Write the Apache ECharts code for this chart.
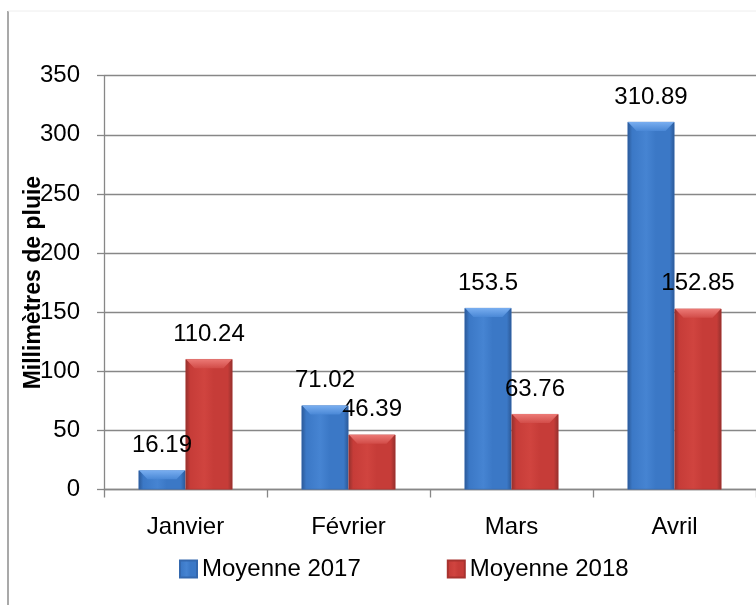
<!DOCTYPE html>
<html>
<head>
<meta charset="utf-8">
<script src="https://cdn.jsdelivr.net/npm/echarts@6/dist/echarts.min.js"></script>
<style>
html,body{margin:0;padding:0;background:#fff;}
#c{width:756px;height:605px;}
</style>
</head>
<body>
<div id="c"></div>
<script>
const categories = ['Janvier', 'Février', 'Mars', 'Avril'];
const series2017 = [16.19, 71.02, 153.5, 310.89];
const series2018 = [110.24, 46.39, 63.76, 152.85];
const seriesNames = ['Moyenne 2017', 'Moyenne 2018'];
const yTicks = { min: 0, max: 350, interval: 50 };
const yTitle = 'Millimètres de pluie';

const FONT = 'Liberation Sans';
const BAR_W = 47;
function grad(edge, mid, hi) {
  return new echarts.graphic.LinearGradient(0, 0, 1, 0, [
    { offset: 0, color: edge },
    { offset: 0.1, color: mid },
    { offset: 0.4, color: hi },
    { offset: 0.6, color: mid },
    { offset: 0.9, color: mid },
    { offset: 1, color: edge }
  ]);
}
const blue = grad('#2b5896', '#3b78c6', '#4684d2');
const red = grad('#92302d', '#c63c38', '#d0443f');
const bevelColors = ['#79aef0', '#ec7a76'];
const bevelEdge = ['#4a88d6', '#d24c48'];

// bevel overlay data built from the same arrays: [categoryIndex, value, seriesIndex]
const bevelData = [];
categories.forEach((c, i) => {
  bevelData.push([i, series2017[i], 0]);
  bevelData.push([i, series2018[i], 1]);
});

const chart = echarts.init(document.getElementById('c'), null, { renderer: 'canvas' });
const labelCfg = {
  show: true, position: 'top', distance: 13,
  fontFamily: FONT, fontSize: 24, color: '#000'
};
chart.setOption({
  animation: false,
  textStyle: { fontFamily: FONT },
  graphic: [
    { type: 'line', shape: { x1: 8, y1: 11, x2: 8, y2: 605 }, style: { stroke: '#8c8c8c', lineWidth: 1.5 } },
    { type: 'line', shape: { x1: 8, y1: 11, x2: 756, y2: 11 }, style: { stroke: '#eeeeee', lineWidth: 1 } }
  ],
  grid: { left: 104, top: 75.7, width: 658, height: 413.8, containLabel: false },
  legend: {
    left: 174, top: 552,
    itemWidth: 17, itemHeight: 17, itemGap: 86,
    icon: 'rect',
    textStyle: { fontFamily: FONT, fontSize: 24, color: '#000' },
    data: seriesNames
  },
  xAxis: {
    type: 'category', data: categories,
    axisLine: { show: true, lineStyle: { color: '#878787', width: 1.3 } },
    axisTick: { show: true, length: 8, alignWithLabel: false, lineStyle: { color: '#878787', width: 1.3 } },
    axisLabel: { margin: 26, fontFamily: FONT, fontSize: 24, color: '#000' }
  },
  yAxis: {
    type: 'value', min: yTicks.min, max: yTicks.max, interval: yTicks.interval,
    name: yTitle, nameLocation: 'middle', nameGap: 59, nameRotate: 90,
    nameMoveOverlap: false,
    nameTextStyle: { fontFamily: FONT, fontSize: 23, fontWeight: 'bold', color: '#000' },
    axisLine: { show: true, lineStyle: { color: '#878787', width: 1.3 } },
    axisTick: { show: true, length: 7, inside: false, lineStyle: { color: '#878787', width: 1.3 } },
    axisLabel: { margin: 24, fontFamily: FONT, fontSize: 24, color: '#000' },
    splitLine: { show: true, lineStyle: { color: '#878787', width: 1.3 } }
  },
  series: [
    {
      name: seriesNames[0], type: 'bar', data: series2017,
      barWidth: BAR_W, barGap: '0%',
      itemStyle: { color: blue, borderColor: '#3468ae', borderWidth: 0.6 },
      label: labelCfg
    },
    {
      name: seriesNames[1], type: 'bar', data: series2018,
      barWidth: BAR_W, barGap: '0%',
      itemStyle: { color: red, borderColor: '#a8332f', borderWidth: 0.6 },
      label: labelCfg
    },
    {
      type: 'custom', silent: true, z: 3,
      data: bevelData,
      encode: { x: 0, y: 1 },
      renderItem: function (params, api) {
        const i = api.value(0), v = api.value(1), s = api.value(2);
        const top = api.coord([i, v]);
        const base = api.coord([i, 0]);
        const x0 = s === 0 ? top[0] - BAR_W : top[0];
        const x1 = x0 + BAR_W;
        const y0 = top[1];
        const h = Math.min(9, (base[1] - y0) / 2);
        const inset = h;
        return {
          type: 'polygon',
          shape: { points: [[x0 + 0.5, y0], [x1 - 0.5, y0], [x1 - inset, y0 + h], [x0 + inset, y0 + h]] },
          style: {
            fill: new echarts.graphic.LinearGradient(0, 0, 0, 1, [
              { offset: 0, color: bevelColors[s] },
              { offset: 1, color: bevelEdge[s] }
            ])
          }
        };
      }
    }
  ]
});
</script>
</body>
</html>
